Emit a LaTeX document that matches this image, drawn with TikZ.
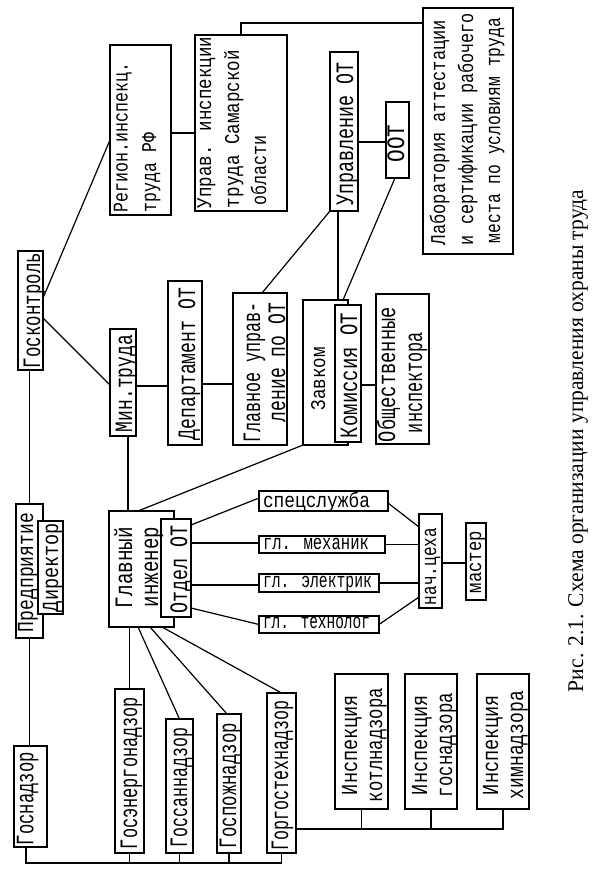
\documentclass[tikz,border=0pt]{standalone}
\usepackage{fontspec}
\usepackage{graphicx}
\newfontfamily\cour{Liberation Mono}
\newfontfamily\capfont{Liberation Serif}
\newcommand\fL{\cour\fontsize{25}{27}\selectfont}
\newcommand\fM{\cour\fontsize{23}{27}\selectfont}
\newcommand\fS{\cour\fontsize{21}{27}\selectfont}
\tikzset{
 bx/.style={draw, line width=1.3pt, fill=white, inner sep=0pt, outer sep=0pt},
 rl/.style={rotate=90, inner sep=0pt, outer sep=0pt},
 hl/.style={inner sep=0pt, outer sep=0pt},
 con/.style={line width=1.2pt},
}
\newcommand\mkbox[5]{\node[bx, minimum width={(#4-#2)*1pt}, minimum height={(#5-#3)*1pt}] (#1) at ({(#2+#4)/2},{(#3+#5)/2}) {};}
\newcommand\rline[6]{\node[rl,anchor=#3,font=#4] (#1) at (#2) {\resizebox{#5pt}{\height}{#6}};}
\newcommand\hlin[5]{\node[hl,anchor=base west,font=#3] (#1) at (#2) {\resizebox{#4pt}{\height}{#5}};}
\begin{document}
\begin{tikzpicture}[x=1pt,y=-1pt]
\useasboundingbox (0,0) rectangle (604,875);
% boxes
\mkbox{reg}{110}{45}{171}{215}
\mkbox{upr}{195}{35}{287}{211}
\mkbox{lab}{423}{8}{513}{254}
\mkbox{uot}{330}{52}{358}{211}
\mkbox{oot}{386}{102}{409}{178}
\mkbox{gk}{18}{251}{43}{370}
\mkbox{min}{110}{329}{136}{436}
\mkbox{dep}{168}{281}{202}{445}
\mkbox{glu}{233}{293}{287}{445}
\mkbox{zav}{303}{300}{348}{445}
\mkbox{kom}{335}{305}{361}{442}
\mkbox{obs}{376}{294}{429}{444}
\mkbox{pred}{16}{504}{43}{638}
\mkbox{dir}{38}{521}{63}{614}
\mkbox{gi}{109}{511}{174}{627}
\mkbox{otd}{161}{519}{191}{617}
\mkbox{spec}{259}{491}{388}{511}
\mkbox{mech}{259}{536}{385}{553}
\mkbox{el}{259}{574}{379}{592}
\mkbox{tech}{259}{616}{379}{633}
\mkbox{nach}{419}{514}{442}{608}
\mkbox{mast}{466}{523}{486}{600}
\mkbox{gsn}{14}{746}{47}{847}
\mkbox{gen}{115}{689}{144}{853}
\mkbox{gsan}{166}{719}{193}{853}
\mkbox{gpozh}{217}{714}{241}{853}
\mkbox{ggt}{267}{693}{296}{853}
\mkbox{ik1}{335}{674}{388}{809}
\mkbox{ik2}{405}{674}{457}{809}
\mkbox{ik3}{477}{674}{529}{809}
% connectors
\coordinate (a1) at ([yshift=12.5pt]gk.east);
\coordinate (a2) at ([yshift=-10pt]reg.west);
\draw[con] (a1) -- (a2);
\draw[con] ([yshift=-7.5pt]gk.east) -- ([yshift=-2.5pt]min.west);
\draw[con] (pred.north |- gk.south) -- (pred.north);
\coordinate (a3) at ([yshift=-3pt]reg.east);
\draw[con] (a3) -- (a3 -| upr.west);
\coordinate (a4) at ([yshift=108pt]lab.west);
\draw[con] (upr.north) |- (a4);
\coordinate (a5) at ([yshift=-3.5pt]min.east);
\draw[con] (a5) -- (a5 -| dep.west);
\coordinate (a6) at ([yshift=-21pt]dep.east);
\draw[con] (a6) -- (a6 -| glu.west);
\draw[con] ([xshift=2pt]glu.north) -- (uot.south west);
\coordinate (a7) at ([xshift=-6pt]uot.south);
\draw[con] (a7) -- (a7 |- zav.north);
\coordinate (a8) at ([yshift=-10.5pt]uot.east);
\draw[con] (a8) -- (a8 -| oot.west);
\draw[con] ([xshift=-2.5pt]oot.south) -- ([xshift=17.5pt]zav.north);
\coordinate (a9) at ([yshift=-11.5pt]kom.east);
\draw[con] (a9) -- (a9 -| obs.west);
\coordinate (a10) at ([xshift=5pt]min.south);
\draw[con] (a10) -- (a10 |- gi.north);
\draw[con] ([xshift=-3.5pt]gi.north) -- (zav.south west);
\draw[con] ([yshift=43pt]otd.east) -- ([yshift=3pt]spec.west);
\coordinate (b1) at ([yshift=25pt]otd.east);
\draw[con] (b1) -- (b1 -| mech.west);
\coordinate (b2) at ([yshift=-17pt]otd.east);
\draw[con] (b2) -- (b2 -| el.west);
\draw[con] ([yshift=-40pt]otd.east) -- (tech.west);
\draw[con] ([yshift=-2pt]spec.east) -- ([yshift=34pt]nach.west);
\draw[con] (mech.east) -- (mech.east -| nach.west);
\draw[con] (el.east) -- (el.east -| nach.west);
\draw[con] (tech.east) -- ([yshift=-36pt]nach.west);
\coordinate (b3) at ([yshift=-2pt]nach.east);
\draw[con] (b3) -- (b3 -| mast.west);
\draw[con] (pred.south) -- (pred.south |- gsn.north);
\draw[con] (gen.north |- gi.south) -- (gen.north);
\draw[con] ([xshift=-3.5pt]gi.south) -- (gsan.north);
\draw[con] ([xshift=8.5pt]gi.south) -- ([xshift=-2pt]gpozh.north);
\draw[con] ([xshift=20.5pt]gi.south) -- (ggt.north);
\coordinate (bus) at (0,863);
\coordinate (b4) at ([xshift=-4.5pt]gsn.south);
\draw[con] (b4) |- (ggt.south |- bus) -- (ggt.south);
\foreach \n in {gen,gsan,gpozh} \draw[con] (\n.south) -- (\n.south |- bus);
\coordinate (ib) at ([yshift=-56pt]ggt.east);
\draw[con] (ib) -| (ik3.south);
\foreach \n in {ik1,ik2} \draw[con] (\n.south) -- (\n.south |- ib);
% texts
\rline{gkT}{40,368}{base west}{\fL}{115}{Госконтроль}
\rline{reg1}{127.5,212}{base west}{\fS}{149}{Регион.инспекц.}
\rline{reg2}{156,212}{base west}{\fS}{79}{труда РФ}
\rline{upr1}{211,208}{base west}{\fS}{171}{Управ. инспекции}
\rline{upr2}{239,208}{base west}{\fS}{158}{труда Самарской}
\rline{upr3}{266,205}{base west}{\fS}{70}{области}
\rline{lab1}{445,245}{base west}{\fS}{225}{Лаборатория аттестации}
\rline{lab2}{473,245}{base west}{\fS}{232}{и сертификации рабочего}
\rline{lab3}{500,243}{base west}{\fS}{225}{места по условиям труда}
\rline{uotT}{353,205}{base west}{\fL}{143}{Управление ОТ}
\rline{ootT}{404,143.5}{base}{\fL}{38}{ООТ}
\rline{minT}{132,432}{base west}{\fL}{97}{Мин.труда}
\rline{depT}{195,440}{base west}{\fL}{152}{Департамент ОТ}
\rline{glu1}{260,302}{base east}{\fL}{140}{Главное управ-}
\rline{glu2}{285,303}{base east}{\fL}{119}{ление по ОТ}
\rline{zavT}{325,410}{base west}{\fS}{63}{Завком}
\rline{komT}{357,438}{base west}{\fL}{125}{Комиссия ОТ}
\rline{obs1}{395,442}{base west}{\fL}{135}{Общественные}
\rline{obs2}{422,433}{base west}{\fL}{101}{инспектора}
\rline{predT}{33,632}{base west}{\fM}{119}{Предприятие}
\rline{dirT}{58,612}{base west}{\fM}{89}{Директор}
\rline{gi1}{132,608}{base west}{\fL}{81}{Главный}
\rline{gi2}{158,607}{base west}{\fL}{80}{инженер}
\rline{otdT}{187,613}{base west}{\fL}{88}{Отдел ОТ}
\rline{nachT}{436,605}{base west}{\fS}{77}{нач.цеха}
\rline{mastT}{481,562}{base}{\fS}{62}{мастер}
\rline{gsnT}{33.5,845}{base west}{\fL}{93}{Госнадзор}
\rline{genT}{137,849}{base west}{\fL}{152}{Госэнергонадзор}
\rline{gsanT}{187,847}{base west}{\fL}{119}{Госсаннадзор}
\rline{gpozhT}{236,848}{base west}{\fL}{125}{Госпожнадзор}
\rline{ggtT}{288,850}{base west}{\fL}{150}{Горгостехнадзор}
\rline{ik1a}{357,745}{base}{\fM}{100}{Инспекция}
\rline{ik1b}{382,745}{base}{\fM}{114}{котлнадзора}
\rline{ik2a}{427,745}{base}{\fM}{100}{Инспекция}
\rline{ik2b}{452,745}{base}{\fM}{104}{госнадзора}
\rline{ik3a}{498,745}{base}{\fM}{100}{Инспекция}
\rline{ik3b}{523,745}{base}{\fM}{108}{химнадзора}
\hlin{specT}{263,507}{\fS}{107}{спецслужба}
\hlin{mechT}{263,549}{\fS}{106}{гл. механик}
\hlin{elT}{263,587}{\fS}{109}{гл. электрик}
\hlin{techT}{263,628}{\fS}{107}{гл. технолог}
\node[rl,anchor=base west,font=\capfont\fontsize{22.5}{27}\selectfont] (cap) at (583,692) {\resizebox{502pt}{\height}{Рис. 2.1. Схема организации управления охраны труда}};
\end{tikzpicture}
\end{document}
